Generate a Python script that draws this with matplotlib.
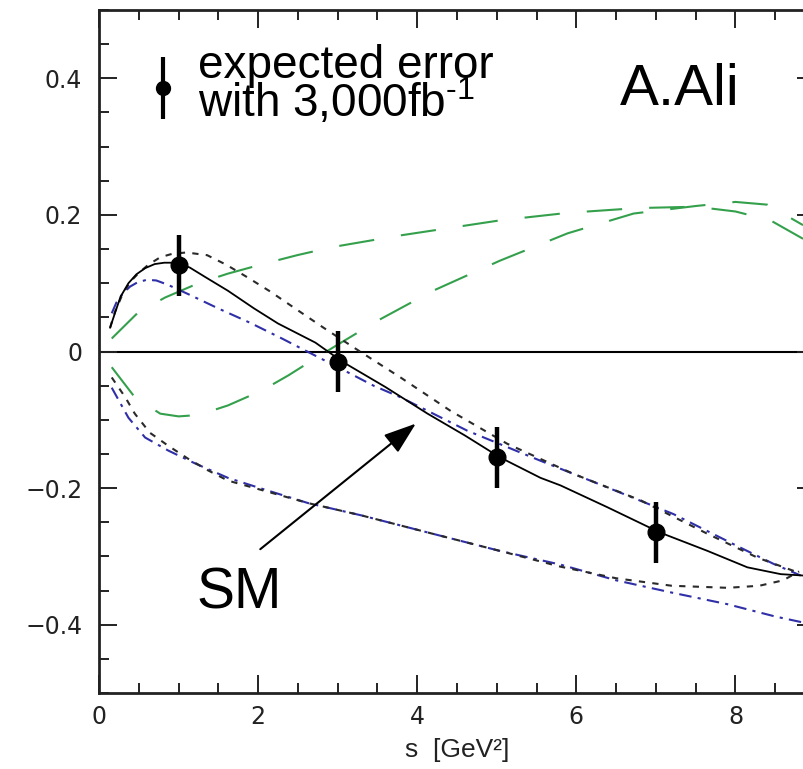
import matplotlib
matplotlib.use("Agg")
import matplotlib.pyplot as plt
from matplotlib.ticker import MultipleLocator

# measured asymmetry points with the expected error bars
point_s = [1.0, 3.0, 5.0, 7.0]
point_afb = [0.126, -0.015, -0.155, -0.265]
point_err = [0.045, 0.045, 0.045, 0.045]

# standard model curve
sm_s = [0.14, 0.2, 0.27, 0.37, 0.47, 0.58, 0.7, 0.82, 0.95, 1.14, 1.35, 1.62,
        1.95, 2.25, 2.72, 3.06, 3.6, 4.13, 4.6, 5.04, 5.55, 5.8, 6.39, 7.05,
        7.65, 8.15, 8.57, 8.85]
sm_afb = [0.035, 0.056, 0.08, 0.10, 0.113, 0.122, 0.128, 0.13, 0.13, 0.123,
          0.108, 0.089, 0.063, 0.041, 0.013, -0.015, -0.052, -0.091, -0.123,
          -0.155, -0.185, -0.196, -0.228, -0.265, -0.292, -0.316, -0.326,
          -0.328]

# black dotted pair
dot_hi_s = [0.14, 0.2, 0.3, 0.4, 0.5, 0.62, 0.77, 0.92, 1.1, 1.36, 1.6, 1.86,
            2.15, 2.44, 2.82, 3.28, 3.79, 4.42, 5.13, 5.96, 6.81, 7.65, 8.28,
            8.75]
dot_hi_afb = [0.035, 0.058, 0.085, 0.103, 0.115, 0.127, 0.138, 0.143, 0.145,
              0.141, 0.127, 0.109, 0.088, 0.065, 0.035, 0.0, -0.038, -0.087,
              -0.135, -0.179, -0.218, -0.267, -0.302, -0.322]
dot_lo_s = [0.16, 0.33, 0.45, 0.64, 0.87, 1.12, 1.37, 1.62, 2.05, 2.63, 3.3,
            4.2, 5.04, 5.8, 6.5, 7.2, 7.9, 8.3, 8.6, 8.8]
dot_lo_afb = [-0.038, -0.067, -0.091, -0.119, -0.138, -0.157, -0.174, -0.189,
              -0.203, -0.222, -0.240, -0.267, -0.292, -0.315, -0.332, -0.343,
              -0.346, -0.343, -0.335, -0.322]

# blue dash-dotted pair
blue_hi_s = [0.16, 0.22, 0.3, 0.39, 0.48, 0.6, 0.72, 0.86, 1.14, 1.5, 1.9, 2.3,
             2.6, 3.12, 3.45, 3.79, 4.63, 5.55, 6.39, 7.22, 8.06, 8.48, 8.82]
blue_hi_afb = [0.056, 0.072, 0.085, 0.095, 0.101, 0.105, 0.104, 0.098, 0.083,
               0.063, 0.042, 0.019, 0.001, -0.03, -0.05, -0.067, -0.116, -0.16,
               -0.199, -0.238, -0.287, -0.311, -0.328]
blue_lo_s = [0.16, 0.37, 0.58, 0.87, 1.21, 1.62, 2.05, 2.63, 3.3, 4.2, 5.04,
             5.8, 6.5, 7.2, 7.9, 8.5, 8.9]
blue_lo_afb = [-0.053, -0.097, -0.126, -0.145, -0.164, -0.185, -0.201, -0.222,
               -0.240, -0.267, -0.292, -0.312, -0.335, -0.353, -0.370, -0.388,
               -0.398]

# green dashed pair
green_a_s = [0.16, 0.49, 0.83, 1.25, 1.62, 2.09, 2.49, 2.94, 3.79, 5.04, 5.89,
             6.77, 7.5, 8.0, 8.44, 8.85]
green_a_afb = [0.019, 0.057, 0.079, 0.1, 0.114, 0.129, 0.141, 0.153, 0.17,
               0.192, 0.203, 0.21, 0.212, 0.205, 0.192, 0.165]
green_b_s = [0.16, 0.45, 0.77, 1.0, 1.25, 1.62, 2.05, 2.38, 2.72, 3.0, 3.5,
             4.2, 5.04, 5.89, 6.72, 7.5, 8.0, 8.4, 8.85]
green_b_afb = [-0.023, -0.067, -0.091, -0.095, -0.093, -0.079, -0.057, -0.035,
               -0.01, 0.01, 0.045, 0.089, 0.133, 0.173, 0.202, 0.213, 0.219,
               0.215, 0.185]

x_ticks = [0, 2, 4, 6, 8]
y_ticks = [-0.4, -0.2, 0, 0.2, 0.4]
y_tick_labels = ["\u22120.4", "\u22120.2", "0", "0.2", "0.4"]

GREEN = "#34a04c"
BLUE = "#2f2fa8"
DOT = "#2a2a2a"
TXT = "Liberation Sans"

plt.rcParams["mathtext.fontset"] = "custom"
plt.rcParams["mathtext.rm"] = TXT
plt.rcParams["mathtext.it"] = TXT + ":italic"
plt.rcParams["mathtext.bf"] = TXT + ":bold"

fig = plt.figure(figsize=(8.04, 7.69), dpi=100)
# the frame runs a little past the right edge of the canvas
ax = fig.add_axes([99 / 804, 76 / 769, 716 / 804, 683 / 769])

ax.axhline(0, color="black", lw=1.5, zorder=1)

ax.plot(green_a_s, green_a_afb, color=GREEN, lw=1.5, ls=(0, (17, 13)))
ax.plot(green_b_s, green_b_afb, color=GREEN, lw=1.5, ls=(0, (17, 13)))
ax.plot(blue_hi_s, blue_hi_afb, color=BLUE, lw=1.5, ls=(0, (6, 3, 1.5, 3)))
ax.plot(blue_lo_s, blue_lo_afb, color=BLUE, lw=1.5, ls=(0, (6, 3, 1.5, 3)))
ax.plot(dot_hi_s, dot_hi_afb, color=DOT, lw=1.5, ls=(0, (3, 3.5)))
ax.plot(dot_lo_s, dot_lo_afb, color=DOT, lw=1.5, ls=(0, (3, 3.5)))
ax.plot(sm_s, sm_afb, color="black", lw=1.3)

ax.errorbar(point_s, point_afb, yerr=point_err, fmt="o", color="black",
            ms=12, elinewidth=3.2, capsize=0, zorder=5)

# key for the error bars
ax.errorbar([0.8], [0.386], yerr=[0.045], fmt="o", color="black",
            ms=10, elinewidth=3.0, capsize=0)
ax.text(1.245, 0.343, "expected error\nwith 3,000fb$^{\u2010\\mathrm{1}}$",
        fontsize=33, family=TXT, va="baseline", linespacing=0.74)
ax.text(6.55, 0.361, "A.Ali", fontsize=42, family=TXT, va="baseline")

ax.text(1.23, -0.377, "SM", fontsize=41, family=TXT, va="baseline")
ax.annotate("", xy=(4.01, -0.103), xytext=(2.0, -0.292),
            arrowprops=dict(arrowstyle="-|>,head_length=0.8,head_width=0.28",
                            color="black", lw=1.5, mutation_scale=25))

ax.set_xlim(0, 9.0)
ax.set_ylim(-0.5, 0.5)
ax.set_xticks(x_ticks)
ax.set_xticklabels([str(v) for v in x_ticks])
ax.set_yticks(y_ticks)
ax.set_yticklabels(y_tick_labels)
ax.xaxis.set_minor_locator(MultipleLocator(0.5))
ax.yaxis.set_minor_locator(MultipleLocator(0.05))
ax.tick_params(which="both", direction="in", top=True, right=True, width=1.4,
               color="#222222")
ax.tick_params(which="major", length=13)
ax.tick_params(which="minor", length=7)
ax.tick_params(axis="y", pad=12, labelsize=17)
ax.tick_params(axis="x", pad=9, labelsize=17)
for lab in ax.get_xticklabels() + ax.get_yticklabels():
    lab.set_family("DejaVu Sans")
    lab.set_color("#222222")
for sp in ax.spines.values():
    sp.set_linewidth(2.0)
    sp.set_color("#222222")

ax.set_xlabel("s  [GeV\u00b2]", fontsize=19, family=TXT, color="#222222")
ax.xaxis.set_label_coords(0.5, -0.066)

fig.savefig("out.png", dpi=100)
